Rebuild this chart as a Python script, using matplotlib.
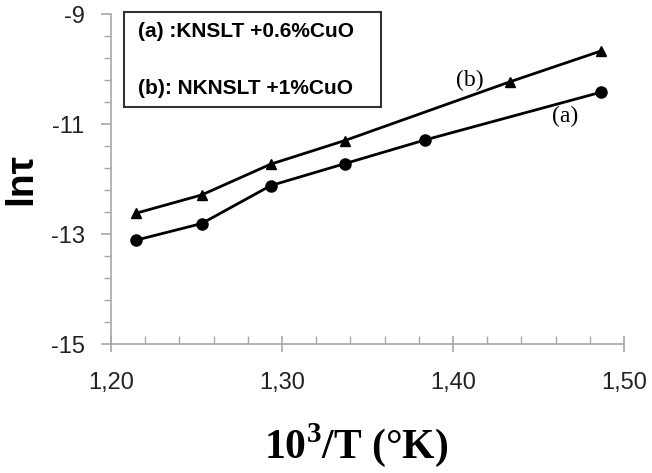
import matplotlib
matplotlib.use("Agg")
import matplotlib.pyplot as plt
import numpy as np
from matplotlib.patches import Rectangle
from matplotlib.ticker import FixedLocator, FuncFormatter

# (a) KNSLT + 0.6% CuO  -- circles
x_a = [1.2149, 1.2530, 1.2934, 1.3368, 1.3836, 1.4867]
y_a = [-13.11, -12.81, -12.12, -11.72, -11.29, -10.42]

# (b) NKNSLT + 1% CuO  -- triangles
x_b = [1.2149, 1.2530, 1.2934, 1.3368, 1.4335, 1.4867]
y_b = [-12.62, -12.29, -11.73, -11.30, -10.23, -9.67]

y_major = [-15, -13, -11, -9]
x_major = [1.20, 1.30, 1.40, 1.50]
legend_lines = ["(a) :KNSLT +0.6%CuO", "(b): NKNSLT +1%CuO"]

GRAY = "#a8a8a8"
plt.rcParams["mathtext.fontset"] = "custom"
plt.rcParams["mathtext.rm"] = "Liberation Serif:bold"
plt.rcParams["mathtext.bf"] = "Liberation Serif:bold"

fig = plt.figure(figsize=(6.52, 4.73), dpi=100)
ax = fig.add_axes([0.1702, 0.2727, 0.787, 0.6977])

ax.plot(x_a, y_a, color="black", lw=2, marker="o", ms=8, zorder=3)
ax.plot(x_b, y_b, color="black", lw=2, marker="^", ms=6.5, zorder=3)

ax.text(1.410, -10.20, "(b)", family="Liberation Serif", fontsize=17,
        ha="center", va="center")
ax.text(1.4655, -10.87, "(a)", family="Liberation Serif", fontsize=17,
        ha="center", va="center")

ax.set_xlim(1.2, 1.5)
ax.set_ylim(-15, -9)
ax.xaxis.set_major_locator(FixedLocator(x_major))
ax.xaxis.set_minor_locator(FixedLocator(np.arange(1.2, 1.501, 0.02)))
ax.yaxis.set_major_locator(FixedLocator(y_major))
ax.yaxis.set_minor_locator(FixedLocator(np.arange(-15, -8.99, 0.4)))
ax.xaxis.set_major_formatter(FuncFormatter(lambda v, p: f"{v:.2f}".replace(".", ",")))
ax.yaxis.set_major_formatter(FuncFormatter(lambda v, p: f"{v:.0f}"))

for side in ("top", "right"):
    ax.spines[side].set_visible(False)
for side in ("left", "bottom"):
    ax.spines[side].set_color(GRAY)
    ax.spines[side].set_linewidth(1.2)

ax.tick_params(axis="x", which="major", direction="inout", length=12, color=GRAY,
               width=1.2, pad=14)
ax.tick_params(axis="x", which="minor", direction="in", length=6, color=GRAY, width=1)
ax.tick_params(axis="y", which="major", direction="out", length=7, color=GRAY,
               width=1.2, pad=12)
ax.tick_params(axis="y", which="minor", direction="out", length=5, color=GRAY, width=1)
for lab in ax.get_xticklabels() + ax.get_yticklabels():
    lab.set_family("Liberation Sans")
    lab.set_fontsize(17)
    lab.set_color("#222222")

ax.set_ylabel("lnτ", family="Liberation Sans", fontweight="bold", fontsize=28,
              labelpad=8)
ax.set_xlabel(r"10$^{\mathbf{3}}$/T (°K)", family="Liberation Serif",
              fontweight="bold", fontsize=30, labelpad=22)
ax.xaxis.set_label_coords(0.478, -0.235)

# legend box
fig.patches.append(Rectangle((0.190, 0.7744), 0.395, 0.2008, transform=fig.transFigure,
                             fill=False, edgecolor="#333333", lw=1.5))
fig.text(0.211, 0.933, legend_lines[0], family="Liberation Sans", fontweight="bold",
         fontsize=15, va="center", ha="left")
fig.text(0.211, 0.8133, legend_lines[1], family="Liberation Sans", fontweight="bold",
         fontsize=15, va="center", ha="left")

fig.savefig("out.png", dpi=100)
